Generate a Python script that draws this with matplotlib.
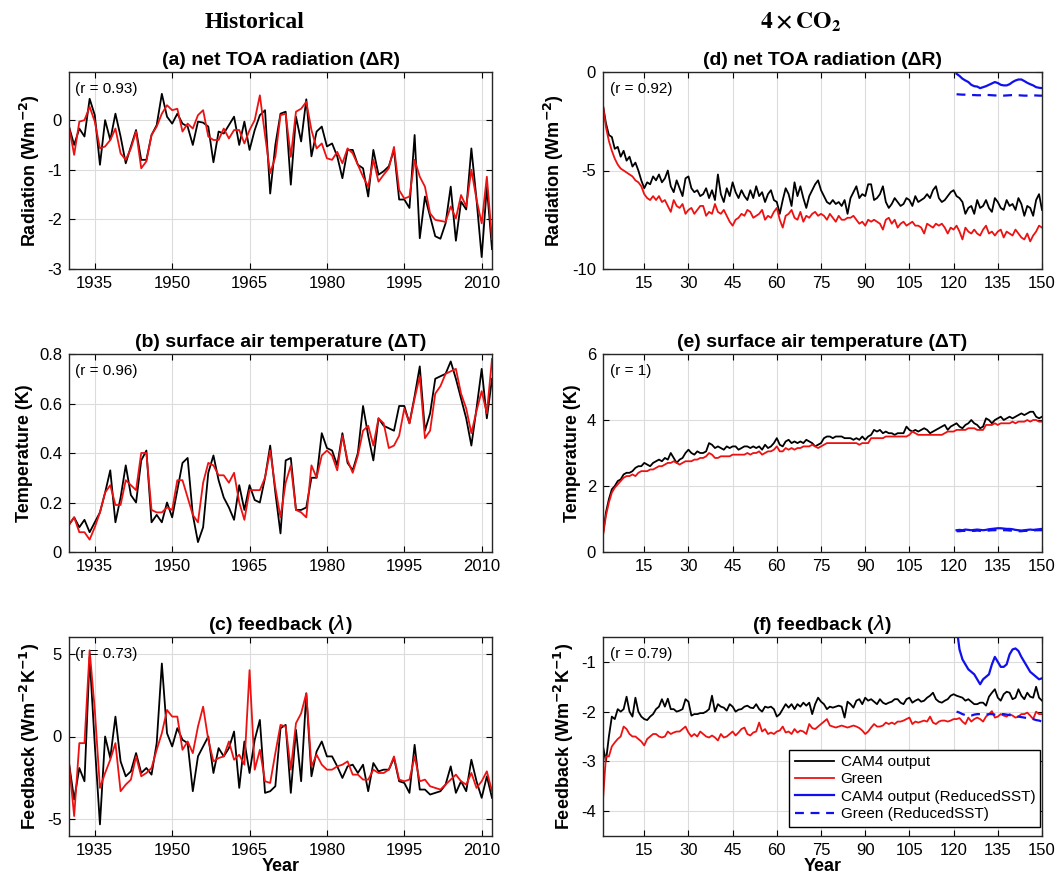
import numpy as np
import matplotlib.pyplot as plt

plt.rcParams['font.family'] = ['Liberation Sans', 'DejaVu Sans']

hist_years = np.arange(1930, 2013)
co2_years = np.arange(1, 151)
sst_years = np.arange(121, 151)

# ---- Historical: net TOA radiation ----
a_cam = [-0.13, -0.5, -0.17, -0.33, 0.43, 0.1, -0.9, 0.0, -0.4, 0.13,
         -0.33, -0.87, -0.53, -0.2, -0.8, -0.8, -0.3, -0.1, 0.53, 0.07,
         -0.07, 0.13, -0.07, -0.13, -0.5, -0.03, -0.05, -0.13, -0.85, -0.23,
         -0.27, -0.1, 0.07, -0.5, -0.03, -0.6, -0.2, 0.1, 0.2, -1.48,
         -0.5, 0.13, 0.17, -1.3, 0.07, -0.43, 0.42, -0.73, -0.23, -0.13,
         -0.53, -0.47, -0.73, -1.17, -0.6, -0.6, -0.9, -0.97, -1.54, -0.6,
         -1.1, -1.03, -0.93, -0.6, -1.6, -1.6, -1.77, -0.3, -2.38, -1.54,
         -1.94, -2.34, -2.39, -2.08, -1.34, -2.43, -1.64, -1.8, -0.57, -1.6,
         -2.76, -1.34, -2.6]
a_green = [-0.13, -0.7, -0.03, 0.0, 0.27, -0.03, -0.57, -0.53, -0.4, -0.17,
           -0.67, -0.8, -0.57, -0.23, -0.97, -0.83, -0.3, -0.13, 0.13, 0.3,
           0.2, 0.23, -0.23, -0.07, -0.17, 0.1, 0.2, -0.33, -0.4, -0.4,
           -0.17, -0.37, -0.2, -0.2, -0.47, -0.2, 0.0, 0.5, -0.3, -1.07,
           -0.74, 0.1, 0.13, -0.74, 0.17, 0.23, 0.37, -0.2, -0.57, -0.47,
           -0.77, -0.8, -0.64, -0.87, -0.57, -0.67, -0.9, -1.14, -1.34, -0.8,
           -1.24, -1.1, -0.97, -0.54, -1.41, -1.58, -1.54, -0.8, -1.14, -1.34,
           -1.88, -2.01, -2.03, -2.05, -1.74, -1.98, -1.51, -1.74, -1.0, -1.6,
           -2.08, -1.14, -2.4]

# ---- Historical: surface air temperature ----
b_cam = [0.11, 0.14, 0.1, 0.13, 0.08, 0.12, 0.16, 0.24, 0.33, 0.12,
         0.22, 0.35, 0.23, 0.2, 0.37, 0.41, 0.12, 0.15, 0.12, 0.2,
         0.14, 0.25, 0.36, 0.38, 0.15, 0.04, 0.1, 0.32, 0.39, 0.29,
         0.22, 0.18, 0.13, 0.27, 0.17, 0.27, 0.21, 0.2, 0.3, 0.43,
         0.24, 0.075, 0.37, 0.38, 0.17, 0.17, 0.18, 0.3, 0.3, 0.48,
         0.42, 0.41, 0.35, 0.48, 0.36, 0.33, 0.4, 0.59, 0.47, 0.37,
         0.54, 0.51, 0.5, 0.49, 0.59, 0.59, 0.52, 0.63, 0.75, 0.49,
         0.56, 0.7, 0.71, 0.72, 0.77, 0.7, 0.62, 0.54, 0.43, 0.58,
         0.74, 0.54, 0.7]
b_green = [0.11, 0.14, 0.08, 0.08, 0.05, 0.1, 0.16, 0.24, 0.27, 0.19,
           0.19, 0.29, 0.27, 0.25, 0.4, 0.4, 0.17, 0.16, 0.16, 0.18,
           0.17, 0.29, 0.29, 0.22, 0.15, 0.12, 0.28, 0.36, 0.35, 0.31,
           0.31, 0.28, 0.32, 0.2, 0.13, 0.25, 0.25, 0.25, 0.3, 0.41,
           0.26, 0.14, 0.28, 0.35, 0.17, 0.16, 0.14, 0.35, 0.3, 0.39,
           0.41, 0.39, 0.33, 0.47, 0.37, 0.32, 0.39, 0.49, 0.51, 0.43,
           0.54, 0.52, 0.42, 0.43, 0.47, 0.58, 0.52, 0.62, 0.71, 0.46,
           0.49, 0.64, 0.67, 0.72, 0.73, 0.74, 0.64, 0.58, 0.48, 0.57,
           0.65, 0.56, 0.78]

# ---- Historical: feedback ----
c_cam = [-1.6, -3.8, -1.9, -2.7, 4.8, -0.5, -5.3, 0.0, -1.3, 1.2,
         -1.5, -2.4, -2.1, -1.0, -2.2, -1.9, -2.3, -0.4, 4.4, 0.2,
         -0.6, 0.5, -0.2, -0.4, -3.3, -1.2, -0.6, 0.0, -2.2, -0.7,
         -1.2, -0.7, 0.3, -3.1, -0.3, -2.2, -0.2, 1.0, -3.4, -3.3,
         -3.0, 0.5, 0.7, -3.4, 0.4, -2.7, 2.6, -2.4, -0.9, -0.3,
         -1.2, -1.2, -1.8, -2.5, -1.8, -1.7, -2.2, -1.7, -3.3, -1.6,
         -2.1, -2.0, -2.0, -1.3, -2.7, -2.8, -3.4, -0.5, -3.2, -3.2,
         -3.5, -3.4, -3.3, -2.9, -1.8, -3.4, -2.7, -3.3, -1.4, -2.7,
         -3.7, -2.4, -3.7]
c_green = [-1.6, -4.8, -0.4, -0.4, 5.2, 1.6, -3.1, -2.2, -1.4, -0.4,
           -3.3, -2.9, -2.6, -1.2, -2.4, -2.2, -1.9, -0.8, 0.2, 1.6,
           1.2, 1.2, -0.8, -0.3, -1.0, 0.6, 1.8, -0.2, -1.5, -1.3,
           -1.2, -0.3, -1.4, -1.1, -1.7, 4.0, -2.0, -0.8, -2.7, -2.8,
           -1.0, 0.7, 0.6, -2.0, 0.8, 1.4, 2.6, -1.8, -1.1, -1.7,
           -2.0, -2.0, -1.8, -1.7, -1.5, -2.3, -2.3, -2.6, -2.6, -2.0,
           -2.2, -2.2, -2.0, -1.2, -2.6, -2.7, -2.6, -1.2, -2.7, -2.6,
           -3.0, -3.1, -3.2, -2.9, -2.6, -2.3, -2.7, -2.9, -2.2, -3.1,
           -2.7, -2.1, -3.3]

# ---- 4xCO2: net TOA radiation ----
d_cam = [-1.7, -2.6, -3.2, -3.3, -3.9, -3.8, -4.3, -4.0, -4.5, -4.3,
         -4.8, -4.6, -5.0, -5.5, -5.9, -5.6, -5.7, -5.3, -5.5, -5.2,
         -5.6, -5.4, -5.0, -5.8, -6.1, -5.5, -5.9, -6.3, -5.4, -5.3,
         -5.9, -6.1, -6.0, -6.3, -6.2, -5.9, -6.4, -6.0, -6.5, -5.2,
         -6.2, -6.6, -5.9, -6.3, -5.6, -6.1, -6.4, -6.0, -6.3, -6.5,
         -6.0, -6.4, -5.8, -6.3, -6.1, -6.6, -6.2, -6.0, -6.5, -6.6,
         -7.2, -6.5, -5.9, -6.2, -6.8, -5.6, -6.3, -5.8, -6.4, -6.9,
         -6.3, -6.0, -5.7, -5.5, -6.0, -6.3, -6.6, -6.7, -6.5, -6.7,
         -6.6, -6.8, -6.5, -7.2, -6.4, -6.1, -5.8, -6.4, -6.2, -6.3,
         -5.7, -5.7, -6.5, -6.4, -6.2, -5.8, -6.6, -6.9, -6.7, -6.4,
         -6.6, -6.8, -6.7, -6.4, -6.5, -6.8, -6.3, -6.6, -6.5, -6.4,
         -6.2, -6.4, -6.0, -5.8, -6.4, -6.6, -6.5, -6.3, -6.1, -6.0,
         -6.3, -6.4, -6.6, -7.2, -6.9, -6.8, -7.2, -6.5, -6.9, -6.8,
         -6.5, -6.9, -7.1, -6.4, -6.6, -6.9, -7.0, -6.5, -6.8, -6.7,
         -7.0, -6.4, -6.7, -7.3, -6.8, -6.9, -7.3, -6.5, -6.2, -7.0]
d_green = [-1.7, -2.8, -3.5, -4.0, -4.4, -4.7, -4.9, -5.0, -5.1, -5.2,
           -5.3, -5.5, -5.6, -5.8, -6.2, -6.4, -6.5, -6.3, -6.5, -6.3,
           -6.6, -6.5, -6.8, -7.1, -6.5, -6.8, -6.9, -6.7, -7.2, -7.0,
           -6.9, -7.2, -7.0, -6.8, -6.8, -7.3, -7.1, -7.2, -6.7, -7.1,
           -7.2, -7.0, -7.3, -7.6, -7.8, -7.5, -7.4, -7.2, -7.3, -7.0,
           -7.1, -7.4, -7.3, -7.2, -7.0, -7.5, -7.3, -7.4, -7.1, -6.9,
           -7.5, -7.9, -7.3, -7.2, -7.0, -7.4, -7.5, -7.1, -7.6, -7.3,
           -7.4, -7.2, -7.1, -7.3, -7.2, -7.3, -7.5, -7.2, -7.4, -7.6,
           -7.3, -7.5, -7.5, -7.4, -7.4, -7.3, -7.5, -7.7, -7.6, -7.8,
           -7.5, -7.6, -7.5, -7.6, -7.7, -8.0, -7.5, -7.4, -7.7, -7.5,
           -7.9, -7.7, -7.6, -7.8, -7.7, -7.6, -7.8, -7.8, -7.9, -8.2,
           -7.7, -7.8, -7.9, -7.7, -7.8, -7.7, -7.9, -8.2, -7.9, -8.0,
           -7.8, -8.1, -8.5, -7.9, -8.1, -8.2, -8.0, -8.2, -8.3, -8.0,
           -7.8, -8.2, -8.1, -8.3, -8.1, -8.0, -8.4, -8.1, -8.2, -8.3,
           -8.0, -8.2, -8.4, -8.5, -8.2, -8.6, -8.3, -8.1, -7.8, -7.9]
d_cam_sst = [-0.09, -0.2, -0.34, -0.43, -0.51, -0.65, -0.72, -0.74, -0.82, -0.77,
             -0.72, -0.65, -0.58, -0.51, -0.56, -0.65, -0.68, -0.68, -0.62, -0.51,
             -0.43, -0.38, -0.38, -0.46, -0.55, -0.62, -0.68, -0.77, -0.8, -0.82]
d_green_sst = [-1.13, -1.14, -1.15, -1.15, -1.16, -1.17, -1.17, -1.18, -1.18, -1.17,
               -1.16, -1.17, -1.18, -1.19, -1.19, -1.2, -1.2, -1.19, -1.18, -1.17,
               -1.17, -1.18, -1.19, -1.2, -1.2, -1.2, -1.19, -1.19, -1.2, -1.2]

# ---- 4xCO2: surface air temperature ----
e_cam = [0.55, 1.2, 1.6, 1.9, 2.0, 2.15, 2.2, 2.35, 2.4, 2.4,
         2.45, 2.55, 2.6, 2.6, 2.7, 2.65, 2.6, 2.7, 2.75, 2.8,
         2.75, 2.85, 2.8, 3.0, 2.85, 2.7, 2.8, 2.85, 3.0, 3.1,
         3.0, 2.95, 3.05, 3.0, 3.0, 3.05, 3.3, 3.25, 3.15, 3.2,
         3.15, 3.1, 3.2, 3.15, 3.2, 3.2, 3.1, 3.15, 3.2, 3.2,
         3.15, 3.2, 3.15, 3.2, 3.1, 3.25, 3.15, 3.2, 3.3, 3.45,
         3.25, 3.2, 3.35, 3.4, 3.3, 3.35, 3.3, 3.35, 3.3, 3.4,
         3.35, 3.3, 3.2, 3.25, 3.3, 3.45, 3.5, 3.5, 3.45, 3.5,
         3.5, 3.5, 3.45, 3.45, 3.45, 3.4, 3.45, 3.4, 3.5, 3.4,
         3.5, 3.55, 3.7, 3.65, 3.7, 3.6, 3.65, 3.6, 3.6, 3.55,
         3.6, 3.6, 3.6, 3.8, 3.7, 3.65, 3.7, 3.65, 3.7, 3.75,
         3.7, 3.6, 3.65, 3.7, 3.75, 3.8, 3.85, 3.7, 3.8, 3.85,
         3.9, 3.8, 3.75, 3.85, 3.9, 4.0, 3.9, 3.85, 3.75, 3.8,
         4.05, 4.0, 3.9, 4.0, 4.05, 4.1, 4.0, 4.05, 4.1, 4.05,
         4.1, 4.15, 4.2, 4.15, 4.2, 4.25, 4.25, 4.1, 4.05, 4.1]
e_green = [0.5, 1.1, 1.5, 1.8, 1.95, 2.05, 2.15, 2.25, 2.3, 2.3,
           2.35, 2.3, 2.4, 2.45, 2.45, 2.45, 2.5, 2.5, 2.55, 2.6,
           2.6, 2.65, 2.7, 2.7, 2.75, 2.7, 2.65, 2.7, 2.75, 2.75,
           2.75, 2.8, 2.8, 2.85, 2.85, 2.9, 3.0, 2.95, 2.85, 2.85,
           2.9, 2.9, 2.9, 2.9, 2.95, 2.95, 2.95, 2.95, 2.95, 3.0,
           2.95, 3.0, 3.0, 3.05, 2.95, 3.0, 3.05, 3.05, 3.1, 3.2,
           3.05, 3.05, 3.15, 3.1, 3.15, 3.1, 3.15, 3.15, 3.2, 3.2,
           3.2, 3.25, 3.2, 3.15, 3.2, 3.25, 3.3, 3.3, 3.3, 3.3,
           3.3, 3.3, 3.3, 3.3, 3.3, 3.3, 3.3, 3.25, 3.3, 3.3,
           3.3, 3.45, 3.45, 3.45, 3.45, 3.45, 3.5, 3.5, 3.5, 3.5,
           3.5, 3.5, 3.5, 3.5, 3.55, 3.65, 3.6, 3.55, 3.55, 3.55,
           3.55, 3.55, 3.55, 3.55, 3.55, 3.55, 3.6, 3.65, 3.65, 3.65,
           3.7, 3.7, 3.7, 3.7, 3.75, 3.75, 3.75, 3.7, 3.7, 3.7,
           3.85, 3.85, 3.85, 3.9, 3.85, 3.9, 3.9, 3.9, 3.9, 3.95,
           3.9, 3.95, 3.95, 3.95, 4.0, 3.95, 4.0, 4.0, 3.95, 3.95]
e_cam_sst = [0.66, 0.67, 0.66, 0.68, 0.67, 0.66, 0.67, 0.68, 0.67, 0.66,
             0.67, 0.69, 0.7, 0.71, 0.72, 0.72, 0.71, 0.7, 0.7, 0.69,
             0.67, 0.66, 0.65, 0.66, 0.67, 0.68, 0.67, 0.68, 0.69, 0.7]
e_green_sst = [0.63, 0.63, 0.64, 0.64, 0.63, 0.64, 0.64, 0.65, 0.64, 0.64,
               0.65, 0.65, 0.66, 0.66, 0.67, 0.67, 0.66, 0.66, 0.65, 0.65,
               0.64, 0.63, 0.63, 0.64, 0.64, 0.65, 0.65, 0.66, 0.66, 0.66]

# ---- 4xCO2: feedback ----
f_cam = [-2.7, -3.0, -2.5, -2.1, -2.15, -1.95, -2.0, -1.95, -1.7, -2.0,
         -2.1, -1.72, -2.0, -2.1, -2.15, -2.17, -2.1, -2.05, -1.95, -1.9,
         -1.75, -1.9, -1.74, -1.95, -1.95, -2.0, -1.98, -1.95, -1.75, -1.8,
         -2.08, -2.05, -2.05, -2.03, -2.03, -2.0, -1.95, -1.68, -2.0, -1.85,
         -1.9, -1.92, -1.98, -1.85, -1.9, -2.0, -1.96, -1.95, -1.9, -1.88,
         -1.92, -1.93, -1.85, -1.95, -2.0, -1.9, -1.92, -1.9, -1.95, -2.1,
         -2.05, -1.95, -1.85, -1.92, -1.85, -1.95, -1.85, -1.9, -1.82, -1.88,
         -1.82, -2.05, -1.85, -1.72, -1.8, -1.85, -1.95, -1.9, -1.92, -1.9,
         -1.88, -1.9, -2.12, -1.8, -1.85, -1.92, -1.78, -1.75, -1.85, -1.72,
         -1.78, -1.75, -1.8, -1.85, -1.75, -1.82, -1.85, -1.82, -1.8, -1.75,
         -1.75, -1.82, -1.85, -1.75, -1.72, -1.82, -1.78, -1.75, -1.8, -1.78,
         -1.72, -1.68, -1.62, -1.75, -1.8, -1.82, -1.78, -1.75, -1.68, -1.65,
         -1.68, -1.7, -1.72, -1.78, -1.75, -1.8, -1.85, -1.85, -1.82, -1.82,
         -1.88, -1.7, -1.62, -1.55, -1.72, -1.78, -1.65, -1.6, -1.62, -1.75,
         -1.72, -1.55, -1.68, -1.75, -1.62, -1.7, -1.72, -1.5, -1.72, -1.78]
f_green = [-3.77, -2.9, -2.9, -2.7, -2.62, -2.55, -2.5, -2.3, -2.35, -2.45,
           -2.5, -2.5, -2.55, -2.6, -2.68, -2.55, -2.5, -2.45, -2.45, -2.5,
           -2.52, -2.5, -2.4, -2.45, -2.42, -2.4, -2.4, -2.35, -2.3, -2.42,
           -2.5, -2.45, -2.5, -2.4, -2.45, -2.5, -2.52, -2.48, -2.52, -2.58,
           -2.45, -2.52, -2.5, -2.45, -2.4, -2.48, -2.42, -2.35, -2.32, -2.45,
           -2.48, -2.42, -2.4, -2.22, -2.4, -2.35, -2.45, -2.42, -2.45, -2.4,
           -2.38, -2.3, -2.42, -2.4, -2.45, -2.35, -2.42, -2.38, -2.4, -2.45,
           -2.25, -2.33, -2.35, -2.3, -2.25, -2.2, -2.15, -2.28, -2.3, -2.32,
           -2.3, -2.28, -2.3, -2.32, -2.3, -2.28, -2.3, -2.33, -2.38, -2.45,
           -2.4, -2.32, -2.25, -2.3, -2.3, -2.28, -2.22, -2.25, -2.22, -2.25,
           -2.2, -2.2, -2.18, -2.15, -2.12, -2.25, -2.2, -2.22, -2.2, -2.18,
           -2.2, -2.1, -2.22, -2.25, -2.2, -2.18, -2.18, -2.2, -2.18, -2.15,
           -2.15, -2.13, -2.2, -2.25, -2.12, -2.2, -2.15, -2.12, -2.15, -2.2,
           -2.1, -2.05, -1.99, -2.12, -2.1, -2.05, -2.08, -2.1, -2.05, -2.08,
           -2.12, -2.1, -2.05, -2.05, -2.02, -2.08, -2.15, -2.0, -2.05, -2.05]
f_cam_sst = [-0.3, -0.75, -0.95, -1.05, -1.15, -1.2, -1.25, -1.35, -1.45, -1.35,
             -1.3, -1.25, -1.05, -0.9, -1.0, -1.1, -1.1, -1.05, -0.85, -0.75,
             -0.73, -0.78, -0.9, -1.0, -1.1, -1.2, -1.25, -1.3, -1.35, -1.33]
f_green_sst = [-2.0, -2.02, -2.05, -2.07, -2.09, -2.08, -2.06, -2.05, -2.05, -2.06,
               -2.06, -2.05, -2.05, -2.06, -2.06, -2.05, -2.05, -2.06, -2.07, -2.08,
               -2.09, -2.1, -2.11, -2.12, -2.13, -2.14, -2.15, -2.17, -2.18, -2.2]

W, H = 1060, 889
fig = plt.figure(figsize=(W / 100, H / 100), dpi=100)


def make_ax(x0, x1, y0, y1):
    return fig.add_axes([x0 / W, 1 - y1 / H, (x1 - x0) / W, (y1 - y0) / H])


def style(ax):
    ax.grid(True, color='#dcdcdc', linewidth=0.8)
    ax.set_axisbelow(True)
    ax.tick_params(direction='in', top=True, right=True, labelsize=12,
                   length=4, width=0.8, pad=5)
    for s in ax.spines.values():
        s.set_linewidth(1.0)
        s.set_color('#262626')


lw = 1.3
panels = [
    (make_ax(69, 492, 72, 269), hist_years, a_cam, a_green, None, None,
     '(a) net TOA radiation (\u0394R)', 'Radiation (Wm$^{\\mathbf{-2}}$)', '(r = 0.93)'),
    (make_ax(69, 492, 354, 552), hist_years, b_cam, b_green, None, None,
     '(b) surface air temperature (\u0394T)', 'Temperature (K)', '(r = 0.96)'),
    (make_ax(69, 492, 637, 836), hist_years, c_cam, c_green, None, None,
     '(c) feedback ($\\lambda$)', 'Feedback (Wm$^{\\mathbf{-2}}$K$^{\\mathbf{-1}}$)', '(r = 0.73)'),
    (make_ax(603, 1042, 72, 269), co2_years, d_cam, d_green, d_cam_sst, d_green_sst,
     '(d) net TOA radiation (\u0394R)', 'Radiation (Wm$^{\\mathbf{-2}}$)', '(r = 0.92)'),
    (make_ax(603, 1042, 354, 552), co2_years, e_cam, e_green, e_cam_sst, e_green_sst,
     '(e) surface air temperature (\u0394T)', 'Temperature (K)', '(r = 1)'),
    (make_ax(603, 1042, 637, 836), co2_years, f_cam, f_green, f_cam_sst, f_green_sst,
     '(f) feedback ($\\lambda$)', 'Feedback (Wm$^{\\mathbf{-2}}$K$^{\\mathbf{-1}}$)', '(r = 0.79)'),
]

ylims = [(-3, 0.97), (0, 0.8), (-6, 6), (-10, 0), (0, 6), (-4.5, -0.5)]
yticks = [[-3, -2, -1, 0], [0, 0.2, 0.4, 0.6, 0.8], [-5, 0, 5],
          [-10, -5, 0], [0, 2, 4, 6], [-4, -3, -2, -1]]
ytlabels = [['-3', '-2', '-1', '0'], ['0', '0.2', '0.4', '0.6', '0.8'], ['-5', '0', '5'],
            ['-10', '-5', '0'], ['0', '2', '4', '6'], ['-4', '-3', '-2', '-1']]

for i, (ax, x, cam, green, cam_sst, green_sst, title, ylabel, rtxt) in enumerate(panels):
    style(ax)
    ax.plot(x, cam, color='black', lw=lw, label='CAM4 output')
    ax.plot(x, green, color='#ee1111', lw=lw, label='Green')
    if cam_sst is not None:
        ax.plot(sst_years, cam_sst, color='#1010ee', lw=1.6, label='CAM4 output (ReducedSST)')
        ax.plot(sst_years, green_sst, color='#1010ee', lw=1.6, ls=(0, (4, 3)),
                label='Green (ReducedSST)')
    if i < 3:
        ax.set_xlim(1930, 2012)
        ax.set_xticks([1935, 1950, 1965, 1980, 1995, 2010])
    else:
        ax.set_xlim(1, 150)
        ax.set_xticks(np.arange(15, 151, 15))
    ax.set_ylim(*ylims[i])
    ax.set_yticks(yticks[i])
    ax.set_yticklabels(ytlabels[i])
    ax.set_title(title, fontsize=14, fontweight='bold', pad=5)
    ax.set_ylabel(ylabel, fontsize=13, fontweight='bold', labelpad=4)
    ax.text(0.015, 0.95, rtxt, transform=ax.transAxes, fontsize=11,
            ha='left', va='top')
    if i in (2, 5):
        ax.set_xlabel('Year', fontsize=13, fontweight='bold', labelpad=0)
    if i == 5:
        ax.legend(loc='lower right', fontsize=11, frameon=True, fancybox=False,
                  edgecolor='black', framealpha=1, handlelength=2.6,
                  borderpad=0.35, labelspacing=0.22, handletextpad=0.4,
                  borderaxespad=0.1, bbox_to_anchor=(1.0, 0.04))

fig.text(255 / W, 1 - 22 / H, 'Historical', fontsize=17, fontweight='bold',
         family='Liberation Serif', ha='center', va='center')
fig.text(800 / W, 1 - 22 / H, r'$\mathbf{4\times CO_2}$', fontsize=17,
         math_fontfamily='stix', ha='center', va='center')

fig.savefig('out.png', dpi=100)
